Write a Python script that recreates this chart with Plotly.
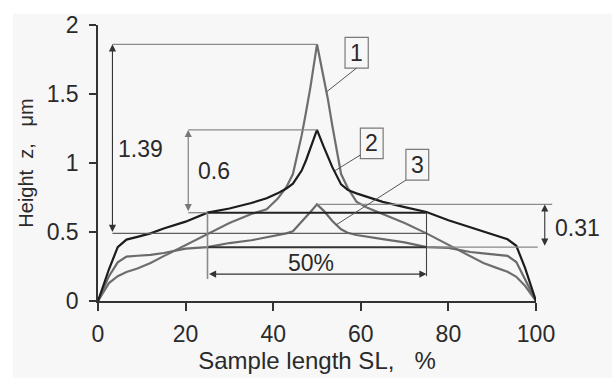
import plotly.graph_objects as go

# ---------------- data ----------------
x_pct = [0, 2.5, 4.5, 6.5, 9, 12, 15, 20, 25, 30,
         35, 38.5, 41, 43, 44.5, 46.5, 47.5, 48.5, 50,
         51.5, 52.5, 53.5, 55.5, 57, 59, 61.5, 65, 70, 75,
         80, 85, 88, 91, 93.5, 95.5, 97.5, 100]

curve1 = [0, 0.13, 0.18, 0.21, 0.235, 0.275, 0.325, 0.405, 0.49, 0.565,
          0.63, 0.665, 0.74, 0.825, 0.92, 1.2, 1.37, 1.55, 1.86,
          1.63, 1.46, 1.27, 0.92, 0.82, 0.72, 0.675, 0.63, 0.565, 0.49,
          0.405, 0.32, 0.275, 0.24, 0.212, 0.175, 0.11, 0]

curve2 = [0, 0.23, 0.39, 0.445, 0.465, 0.49, 0.525, 0.575, 0.64, 0.67,
          0.71, 0.745, 0.78, 0.815, 0.85, 0.945, 1.02, 1.105, 1.24,
          1.12, 1.04, 0.97, 0.845, 0.805, 0.78, 0.755, 0.718, 0.68, 0.645,
          0.585, 0.533, 0.505, 0.475, 0.447, 0.40, 0.24, 0]

curve3 = [0, 0.18, 0.28, 0.322, 0.328, 0.334, 0.348, 0.38, 0.39, 0.42,
          0.44, 0.46, 0.475, 0.49, 0.505, 0.57, 0.61, 0.645, 0.70,
          0.655, 0.615, 0.58, 0.52, 0.495, 0.478, 0.464, 0.448, 0.425, 0.39,
          0.385, 0.355, 0.345, 0.336, 0.327, 0.282, 0.16, 0]

y_ticks = [0, 0.5, 1, 1.5, 2]
y_tick_text = ["0", "0.5", "1", "1.5", "2"]
x_ticks = [0, 20, 40, 60, 80, 100]
x_tick_text = ["0", "20", "40", "60", "80", "100"]

# dimension values
peak1, base1 = 1.86, 0.49
peak2, base2 = 1.24, 0.64
peak3, base3 = 0.70, 0.39
dim_labels = ["1.39", "0.6", "0.31", "50%"]
curve_labels = ["1", "2", "3"]

FONT = "Liberation Sans"
TXT = "#2a2a2a"

fig = go.Figure()
for ys, col in [(curve1, "#6e6e6e"), (curve3, "#6a6a6a"), (curve2, "#1c1c1c")]:
    fig.add_trace(go.Scatter(x=x_pct, y=ys, mode="lines",
                             line=dict(color=col, width=2.2), showlegend=False,
                             hoverinfo="skip"))

XMAX = 100.0
def px(x):
    return x / XMAX

shapes = []
# white margins around the grey panel
shapes.append(dict(type="rect", xref="paper", yref="paper", x0=-0.3, x1=-0.194,
                   y0=-0.3, y1=1.2, fillcolor="white", line=dict(width=0), layer="below"))
shapes.append(dict(type="rect", xref="paper", yref="paper", x0=-0.3, x1=1.3,
                   y0=1.041, y1=1.2, fillcolor="white", line=dict(width=0), layer="below"))

def hline(x0, x1, y, color, width, paper=False):
    shapes.append(dict(type="line", xref="paper" if paper else "x", yref="y",
                       x0=px(x0) if paper else x0, x1=px(x1) if paper else x1,
                       y0=y, y1=y, line=dict(color=color, width=width)))

def vline(x, y0, y1, color, width):
    shapes.append(dict(type="line", xref="x", yref="y", x0=x, x1=x, y0=y0, y1=y1,
                       line=dict(color=color, width=width)))

hline(3.3, 50, peak1, "#8a8a8a", 1.3)
hline(20.6, 50, peak2, "#8a8a8a", 1.3)
hline(3.3, 75, base1, "#5e5e5e", 1.2)
hline(20.6, 25, base2, "#8a8a8a", 1.3)
hline(50, 103.7, peak3, "#8a8a8a", 1.2, paper=True)
hline(75, 100.4, base3, "#8a8a8a", 1.2, paper=True)
hline(25, 75, base2, "#222222", 2)
hline(25, 75, base3, "#333333", 2)
vline(25, 0.16, base2, "#8a8a8a", 1.6)
vline(75, 0.18, base2, "#444444", 1.1)

# callout boxes and leaders
boxes = [(56.4, 61.7, 1.687, 1.911), (59.9, 65.1, 1.031, 1.253), (70.3, 75.5, 0.876, 1.099)]
leaders = [(59.0, 1.687, 52.2, 1.516), (59.9, 1.058, 54.1, 0.944), (70.3, 0.876, 54.3, 0.55)]
for (a, b, c, d) in boxes:
    shapes.append(dict(type="rect", xref="x", yref="y", x0=a, x1=b, y0=c, y1=d,
                       line=dict(color="#7a7a7a", width=1.2), fillcolor="rgba(0,0,0,0)"))
for (a, b, c, d) in leaders:
    shapes.append(dict(type="line", xref="x", yref="y", x0=a, y0=b, x1=c, y1=d,
                       line=dict(color="#555555", width=1)))

annotations = []

def dbl_arrow(x0, y0, x1, y1, color, paper=False):
    d = dict(x=x1, y=y1, ax=x0, ay=y0, xref="x", yref="y", axref="x", ayref="y",
             text="", showarrow=True, arrowhead=2, startarrowhead=2,
             arrowside="end+start", arrowsize=1.3, startarrowsize=1.3,
             arrowwidth=1.1, arrowcolor=color)
    if paper:
        d.update(x=px(x1), xref="paper", axref="pixel", ax=0)
    annotations.append(d)

dbl_arrow(3.3, base1, 3.3, peak1, "#333333")
dbl_arrow(20.6, base2, 20.6, peak2, "#777777")
dbl_arrow(102, base3, 102, peak3, "#333333", paper=True)
dbl_arrow(25, 0.195, 75, 0.195, "#333333")

def label(x, y, t, paper=False):
    annotations.append(dict(x=px(x) if paper else x, y=y, xref="paper" if paper else "x",
                            yref="y", text=t, showarrow=False,
                            font=dict(family=FONT, size=23, color=TXT),
                            xanchor="center", yanchor="middle"))

label(9.7, 1.10, dim_labels[0])
label(26.5, 0.944, dim_labels[1])
label(109.4, 0.53, dim_labels[2], paper=True)
label(48.7, 0.274, dim_labels[3])
for (a, b, c, d), t in zip(boxes, curve_labels):
    label((a + b) / 2, (c + d) / 2, t)

fig.update_layout(
    width=612, height=378,
    margin=dict(l=98, r=76, t=19, b=67),
    paper_bgcolor="#f7f7f7", plot_bgcolor="rgba(0,0,0,0)",
    shapes=shapes, annotations=annotations,
    font=dict(family=FONT, color=TXT),
    xaxis=dict(range=[0, 100], tickvals=x_ticks, ticktext=x_tick_text,
               showgrid=False, zeroline=False, showline=True, linecolor="#333333",
               linewidth=1.5, ticks="outside", ticklen=8, tickwidth=1.5,
               tickcolor="#333333", tickfont=dict(size=23, family=FONT, color=TXT),
               ticklabelstandoff=4,
               title=dict(text="Sample length SL,\u00a0\u00a0\u00a0%",
                          font=dict(size=24, family=FONT, color=TXT), standoff=2)),
    yaxis=dict(range=[0, 2], tickvals=y_ticks, ticktext=y_tick_text,
               showgrid=False, zeroline=False, showline=True, linecolor="#333333",
               linewidth=1.5, ticks="outside", ticklen=7, tickwidth=1.5,
               tickcolor="#333333", tickfont=dict(size=23, family=FONT, color=TXT),
               ticklabelstandoff=6,
               title=dict(text="Height\u00a0\u00a0z,\u00a0\u00a0\u00a0μm",
                          font=dict(size=20, family=FONT, color=TXT), standoff=8)),
)

fig.write_html("out.html")
